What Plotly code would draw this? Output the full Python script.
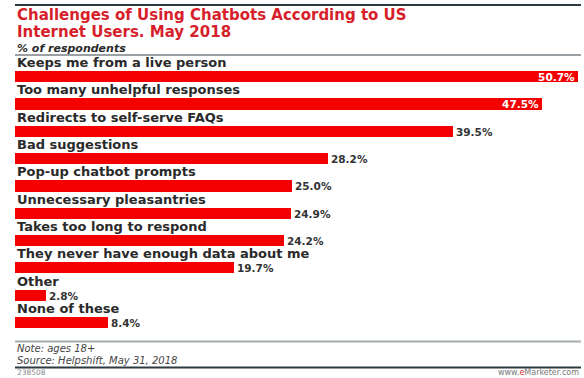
import plotly.graph_objects as go

categories = [
    "Keeps me from a live person",
    "Too many unhelpful responses",
    "Redirects to self-serve FAQs",
    "Bad suggestions",
    "Pop-up chatbot prompts",
    "Unnecessary pleasantries",
    "Takes too long to respond",
    "They never have enough data about me",
    "Other",
    "None of these",
]
values = [50.7, 47.5, 39.5, 28.2, 25.0, 24.9, 24.2, 19.7, 2.8, 8.4]
text_positions = ["inside", "inside"] + ["outside"] * 8

title_lines = ["Challenges of Using Chatbots According to US", "Internet Users. May 2018"]
subtitle = "% of respondents"
note = "Note: ages 18+"
source = "Source: Helpshift, May 31, 2018"
chart_id = "238508"

W, H = 584, 378
L, R, T, B = 15, 3, 63, 32
FONT = "DejaVu Sans"
TXT = "#2a2a2a"
RED = "#f40000"
TITLE_RED = "#d61f2b"


def px(x):
    return (x - L) / (W - L - R)


def py(y):
    return (H - B - y) / (H - T - B)


fig = go.Figure()
fig.add_trace(go.Bar(
    x=values,
    y=categories,
    orientation="h",
    width=0.41,
    marker=dict(color=RED, line=dict(width=0)),
    text=[f"{v:.1f}%" for v in values],
    textposition=text_positions,
    insidetextanchor="end",
    insidetextfont=dict(family=FONT, size=10.5, color="white", weight="bold"),
    outsidetextfont=dict(family=FONT, size=10.5, color="#333333", weight="bold"),
    constraintext="none",
    cliponaxis=False,
    hoverinfo="skip",
))

annotations = []
for c in categories:
    annotations.append(dict(
        x=0, y=c, xref="x", yref="y", text=f"<b>{c}</b>", showarrow=False,
        xanchor="left", yanchor="middle", yshift=14, xshift=0,
        font=dict(family=FONT, size=13, color=TXT),
    ))

annotations += [
    dict(x=px(15), y=py(15), xref="paper", yref="paper", text=f"<b>{title_lines[0]}</b>",
         showarrow=False, xanchor="left", yanchor="middle",
         font=dict(family=FONT, size=15, color=TITLE_RED)),
    dict(x=px(15), y=py(32.5), xref="paper", yref="paper", text=f"<b>{title_lines[1]}</b>",
         showarrow=False, xanchor="left", yanchor="middle",
         font=dict(family=FONT, size=15, color=TITLE_RED)),
    dict(x=px(15), y=py(48), xref="paper", yref="paper", text=f"<b><i>{subtitle}</i></b>",
         showarrow=False, xanchor="left", yanchor="middle",
         font=dict(family=FONT, size=11, color=TXT)),
    dict(x=px(15), y=py(348.5), xref="paper", yref="paper", text=f"<i>{note}</i>",
         showarrow=False, xanchor="left", yanchor="middle",
         font=dict(family=FONT, size=10, color="#444444")),
    dict(x=px(15), y=py(360.5), xref="paper", yref="paper", text=f"<i>{source}</i>",
         showarrow=False, xanchor="left", yanchor="middle",
         font=dict(family=FONT, size=10, color="#444444")),
    dict(x=px(15), y=py(372.5), xref="paper", yref="paper", text=chart_id,
         showarrow=False, xanchor="left", yanchor="middle",
         font=dict(family=FONT, size=7.5, color="#888888")),
    dict(x=px(581), y=py(372.5), xref="paper", yref="paper",
         text="www.<span style='color:#d61f2b'>e</span>Marketer.com",
         showarrow=False, xanchor="right", yanchor="middle",
         font=dict(family=FONT, size=8, color="#777777")),
]

shapes = [
    dict(type="line", xref="paper", yref="paper", x0=px(15), x1=px(581), y0=py(5), y1=py(5),
         line=dict(color="#2c3a42", width=2)),
    dict(type="line", xref="paper", yref="paper", x0=px(15), x1=px(581), y0=py(55), y1=py(55),
         line=dict(color="#9aa0a4", width=2)),
    dict(type="line", xref="paper", yref="paper", x0=px(15), x1=px(581), y0=py(341.5), y1=py(341.5),
         line=dict(color="#a8adb0", width=2)),
    dict(type="line", xref="paper", yref="paper", x0=px(15), x1=px(581), y0=py(367.5), y1=py(367.5),
         line=dict(color="#2c3a42", width=2)),
]

fig.update_layout(
    width=W, height=H,
    margin=dict(l=L, r=R, t=T, b=B, pad=0),
    paper_bgcolor="white", plot_bgcolor="white",
    showlegend=False,
    bargap=0,
    xaxis=dict(range=[0, 51], visible=False, fixedrange=True),
    yaxis=dict(autorange="reversed", showticklabels=False, showgrid=False,
               zeroline=False, showline=False, ticks="", fixedrange=True),
    annotations=annotations,
    shapes=shapes,
    font=dict(family=FONT),
)

fig.write_html("out.html")
